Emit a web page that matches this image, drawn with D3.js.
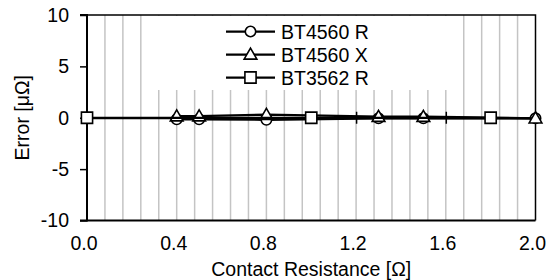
<!DOCTYPE html>
<html>
<head>
<meta charset="utf-8">
<script src="https://cdn.jsdelivr.net/npm/d3@7"></script>
<style>
  body { margin: 0; background: #fff; }
  text { font-family: "Liberation Sans", Arial, sans-serif; }
</style>
</head>
<body>
<div id="chart"></div>
<script>
// data
const xA = [0.4, 0.5, 0.8, 1.3, 1.5, 2.0];
const bt4560R = [-0.15, -0.15, -0.2, -0.05, -0.05, -0.05];
const bt4560X = [0.15, 0.15, 0.3, 0.1, 0.1, -0.05];
const xB = [0.0, 1.0, 1.8];
const bt3562R = [0.0, 0.0, 0.0];
const seriesNames = ["BT4560 R", "BT4560 X", "BT3562 R"];
const xTicks = [0.0, 0.4, 0.8, 1.2, 1.6, 2.0];
const yTicks = [-10, -5, 0, 5, 10];

const w = 549, h = 280;
const pLeft = 87, pRight = 535.5, pTop = 15, pBottom = 220.5;
const fs = 19.5;

const svg = d3.select("#chart")
  .append("svg")
  .attr("width", w)
  .attr("height", h)

const x = d3.scaleLinear().domain([0, 2]).range([pLeft, pRight]);
const y = d3.scaleLinear().domain([-10, 10]).range([pBottom, pTop]);

// minor vertical gridlines every 0.08
const minor = d3.range(1, 25).map(i => i * 0.08);
svg.selectAll("line.grid")
  .data(minor)
  .enter()
  .append("line")
  .attr("class", "grid")
  .attr("x1", d => x(d)).attr("x2", d => x(d))
  .attr("y1", pTop).attr("y2", pBottom)
  .attr("stroke", "#c4c4c4")
  .attr("stroke-width", 1.5)

// plot border (top + right)
svg.append("path")
  .attr("d", `M${pLeft},${pTop}H${pRight}V${pBottom}`)
  .attr("fill", "none")
  .attr("stroke", "#000")
  .attr("stroke-width", 1.5)

// bottom line
svg.append("line")
  .attr("x1", pLeft).attr("x2", pRight)
  .attr("y1", pBottom).attr("y2", pBottom)
  .attr("stroke", "#000").attr("stroke-width", 2)

// y axis (hyphen minus like the original)
const yAxis = svg.append("g")
  .attr("transform", `translate(${pLeft},0)`)
  .call(d3.axisLeft(y).tickValues(yTicks).tickSize(7).tickPadding(11).tickFormat(d => String(d)))
yAxis.select(".domain").attr("stroke-width", 2).attr("d", `M-7,${pTop}H0V${pBottom}H-7`)
yAxis.selectAll(".tick line").attr("stroke-width", 1.5)
yAxis.selectAll("text").attr("font-size", fs).attr("fill", "#000")
  .attr("font-family", "Liberation Sans, Arial, sans-serif")

// x axis along zero, ticks crossing
const xAxis = svg.append("g")
  .attr("transform", `translate(0,${y(0)})`)
  .call(d3.axisBottom(x).tickValues(xTicks).tickSize(6).tickFormat(""))
xAxis.select(".domain").attr("stroke-width", 2)
xAxis.selectAll(".tick line").attr("y1", -6).attr("stroke-width", 1.5)

// x tick labels at bottom
svg.selectAll("text.xl")
  .data(xTicks)
  .enter()
  .append("text")
  .attr("class", "xl")
  .attr("x", d => x(d) - 3)
  .attr("y", 250)
  .attr("text-anchor", "middle")
  .attr("font-size", fs)
  .text(d => d.toFixed(1))

// axis titles
svg.append("text")
  .attr("x", (pLeft + pRight) / 2).attr("y", 276)
  .attr("text-anchor", "middle").attr("font-size", fs)
  .text("Contact Resistance [Ω]")
svg.append("text")
  .attr("transform", `translate(29,${(pTop + pBottom) / 2}) rotate(-90)`)
  .attr("text-anchor", "middle").attr("font-size", fs)
  .text("Error [μΩ]")

// legend background
svg.append("rect")
  .attr("x", 150).attr("y", pTop + 1)
  .attr("width", 305).attr("height", 74)
  .attr("fill", "#fff")

const markers = [
  d3.symbol().type(d3.symbolCircle).size(85),
  d3.symbol().type(d3.symbolTriangle).size(70),
  d3.symbol().type(d3.symbolSquare).size(125)
];

const series = [
  xA.map((v, i) => [v, bt4560R[i]]),
  xA.map((v, i) => [v, bt4560X[i]]),
  xB.map((v, i) => [v, bt3562R[i]])
];

const line = d3.line().x(d => x(d[0])).y(d => y(d[1]));

series.forEach((s, k) => {
  svg.append("path")
    .datum(s)
    .attr("d", line)
    .attr("fill", "none")
    .attr("stroke", "#000")
    .attr("stroke-width", 2.25)
  svg.selectAll("path.m" + k)
    .data(s)
    .enter()
    .append("path")
    .attr("class", "m" + k)
    .attr("d", markers[k])
    .attr("transform", d => `translate(${x(d[0])},${y(d[1]) + (k === 1 ? 1 : 0)})`)
    .attr("fill", "#fff")
    .attr("stroke", "#000")
    .attr("stroke-width", 1.6)
})

// legend entries
const legendY = [31.5, 54.5, 77.5];
seriesNames.forEach((name, k) => {
  const g = svg.append("g").attr("transform", `translate(0,${legendY[k]})`)
  g.append("line")
    .attr("x1", 226).attr("x2", 275)
    .attr("stroke", "#000").attr("stroke-width", 2.25)
  g.append("path")
    .attr("d", markers[k])
    .attr("transform", `translate(250.5,${k === 1 ? 1 : 0})`)
    .attr("fill", "#fff").attr("stroke", "#000").attr("stroke-width", 1.6)
  g.append("text")
    .attr("x", 281).attr("y", 7)
    .attr("font-size", fs)
    .text(name)
})
</script>
</body>
</html>
